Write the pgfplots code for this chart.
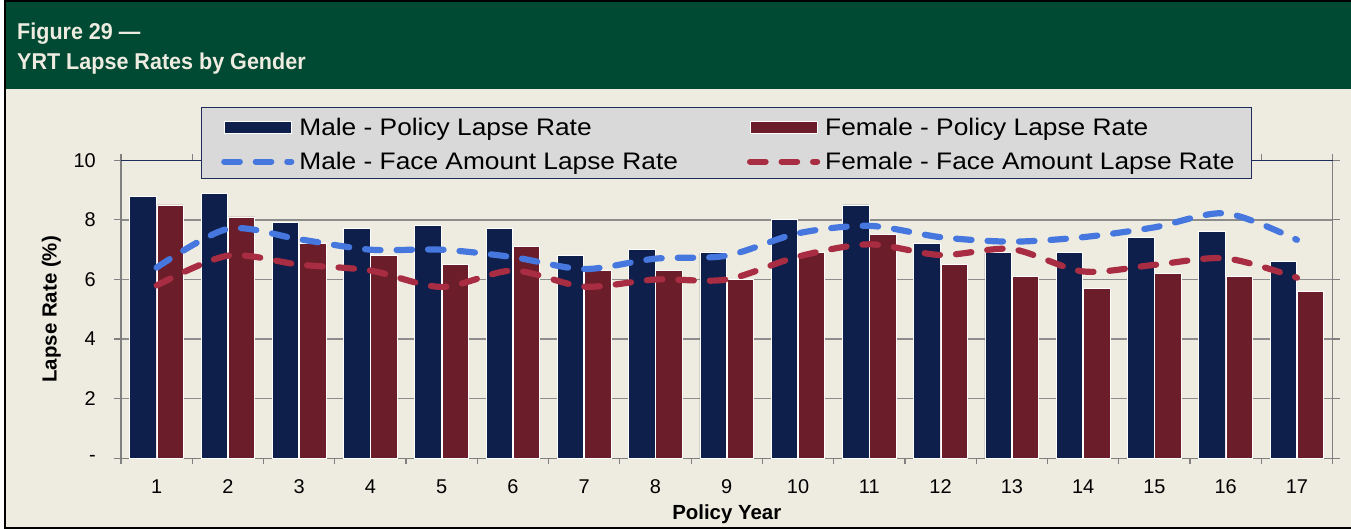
\documentclass[border=0pt]{standalone}
\usepackage{fontspec}
\setmainfont{Liberation Sans}
\newfontfamily\legfont{Liberation Sans}[FakeStretch=1.1]
\newfontfamily\titlefont{Liberation Sans}[FakeStretch=0.94]
\usepackage{pgfplots}
\pgfplotsset{compat=1.18}
\definecolor{hdrgreen}{RGB}{0,73,50}
\definecolor{bgbeige}{RGB}{238,236,225}
\definecolor{titlecream}{RGB}{238,236,225}
\definecolor{navybar}{RGB}{13,31,74}
\definecolor{maroonbar}{RGB}{107,30,41}
\definecolor{blueline}{RGB}{70,119,223}
\definecolor{redline}{RGB}{169,45,66}
\definecolor{gridgray}{RGB}{140,140,140}
\definecolor{axisgray}{RGB}{128,128,128}
\definecolor{legendgray}{RGB}{217,217,217}
\definecolor{legendnavy}{RGB}{31,45,90}
\begin{document}
\begin{tikzpicture}[x=1bp,y=1bp]
\useasboundingbox (0,0) rectangle (1351,529);
\fill[white] (0,0) rectangle (1351,529);
\fill[bgbeige] (5,1) rectangle (1351,528);
\fill[hdrgreen] (5,439.7) rectangle (1351,528);
\draw[black, line width=2.2bp] (1351,527.7) -- (5,527.7) -- (5,1) -- (1351,1);
\node[anchor=base west, text=titlecream, inner sep=0pt, font=\titlefont\bfseries\fontsize{23}{27}\selectfont] at (17,489.7) {Figure 29 —};
\node[anchor=base west, text=titlecream, inner sep=0pt, font=\titlefont\bfseries\fontsize{23}{27}\selectfont] at (17,459) {YRT Lapse Rates by Gender};
\begin{axis}[
  at={(121bp,70.7bp)}, anchor=south west, scale only axis,
  width=1211.5bp, height=298bp, clip=false,
  xmin=0.5, xmax=17.5, ymin=0, ymax=10,
  xtick={1,...,17}, minor xtick={0.5,1.5,...,17.5},
  ytick={0,2,...,10}, yticklabels={-,2,4,6,8,10},
  tick align=outside, major tick length=7bp, minor tick length=6bp,
  tick style={axisgray, line width=1.2bp},
  major x tick style={draw=none},
  axis line style={draw=axisgray, line width=1.2bp},
  ymajorgrids, grid style={gridgray, line width=1.3bp},
  ticklabel style={font=\fontsize{20}{24}\selectfont},
  /pgf/number format/assume math mode=true,
  yticklabel style={anchor=east, inner sep=0pt, xshift=-18bp},
  xticklabel style={anchor=base, inner sep=0pt, yshift=-28bp},
  xlabel={Policy Year}, ylabel={Lapse Rate (\%)},
  xlabel style={at={(axis description cs:0.5,0)}, anchor=base, yshift=-61bp, font=\bfseries\fontsize{20.5}{24}\selectfont},
  ylabel style={at={(axis description cs:0,0.5)}, anchor=base, yshift=64.3bp, font=\bfseries\fontsize{20.5}{24}\selectfont},
  legend columns=2, legend cell align=left,
  legend style={at={(axis description cs:0.0825,1.143)}, anchor=north west,
    draw=none, fill=none, inner sep=0pt, row sep=15.5bp,
    font=\legfont\fontsize{24}{28}\selectfont,
    nodes={inner sep=0pt},
    /tikz/every odd column/.append style={column sep=5bp},
    /tikz/every even column/.append style={column sep=69bp}},
]
\addplot[ybar, bar width=26.5bp, bar shift=-13.6bp, fill=navybar, draw=white, line width=0.8bp,
  legend image code/.code={\draw[fill=navybar, draw=white, line width=0.8bp] (0bp,-6bp) rectangle (67bp,6bp);}]
  coordinates {(1,8.8) (2,8.9) (3,7.9) (4,7.7) (5,7.8) (6,7.7) (7,6.8) (8,7.0) (9,6.9) (10,8.0) (11,8.5) (12,7.2) (13,6.9) (14,6.9) (15,7.4) (16,7.6) (17,6.6)};
\addlegendentry{Male - Policy Lapse Rate}
\addplot[ybar, bar width=26.5bp, bar shift=13.6bp, fill=maroonbar, draw=white, line width=0.8bp,
  legend image code/.code={\draw[fill=maroonbar, draw=white, line width=0.8bp] (0bp,-6bp) rectangle (67bp,6bp);}]
  coordinates {(1,8.5) (2,8.1) (3,7.2) (4,6.8) (5,6.5) (6,7.1) (7,6.3) (8,6.3) (9,6.0) (10,6.9) (11,7.5) (12,6.5) (13,6.1) (14,5.7) (15,6.2) (16,6.1) (17,5.6)};
\addlegendentry{Female - Policy Lapse Rate}
\addplot[smooth, tension=0.5, color=blueline, line width=6.2bp, line cap=round, dash pattern=on 15.5bp off 16bp,
  legend image code/.code={\draw[color=blueline, line width=6.2bp, line cap=round, dash pattern=on 15.5bp off 16bp] (0bp,0bp) -- (67bp,0bp);}]
  coordinates {(1,6.4) (2,7.7) (3,7.35) (4,7.0) (5,7.0) (6,6.75) (7,6.35) (8,6.7) (9,6.8) (10,7.55) (11,7.8) (12,7.42) (13,7.27) (14,7.42) (15,7.75) (16,8.22) (17,7.33)};
\addlegendentry{Male - Face Amount Lapse Rate}
\addplot[smooth, tension=0.5, color=redline, line width=6.2bp, line cap=round, dash pattern=on 15.5bp off 16bp,
  legend image code/.code={\draw[color=redline, line width=6.2bp, line cap=round, dash pattern=on 15.5bp off 16bp] (0bp,0bp) -- (67bp,0bp);}]
  coordinates {(1,5.8) (2,6.8) (3,6.5) (4,6.3) (5,5.75) (6,6.3) (7,5.76) (8,6.0) (9,6.0) (10,6.77) (11,7.18) (12,6.82) (13,7.02) (14,6.27) (15,6.49) (16,6.71) (17,6.06)};
\addlegendentry{Female - Face Amount Lapse Rate}
\draw[legendnavy, line width=1.2bp] (rel axis cs:0,1) -- (rel axis cs:1,1);
\draw[fill=legendgray, draw=legendnavy, line width=1.3bp] (axis description cs:0.0666,1.178) rectangle (axis description cs:0.9333,0.9396);
\end{axis}
\end{tikzpicture}
\end{document}
